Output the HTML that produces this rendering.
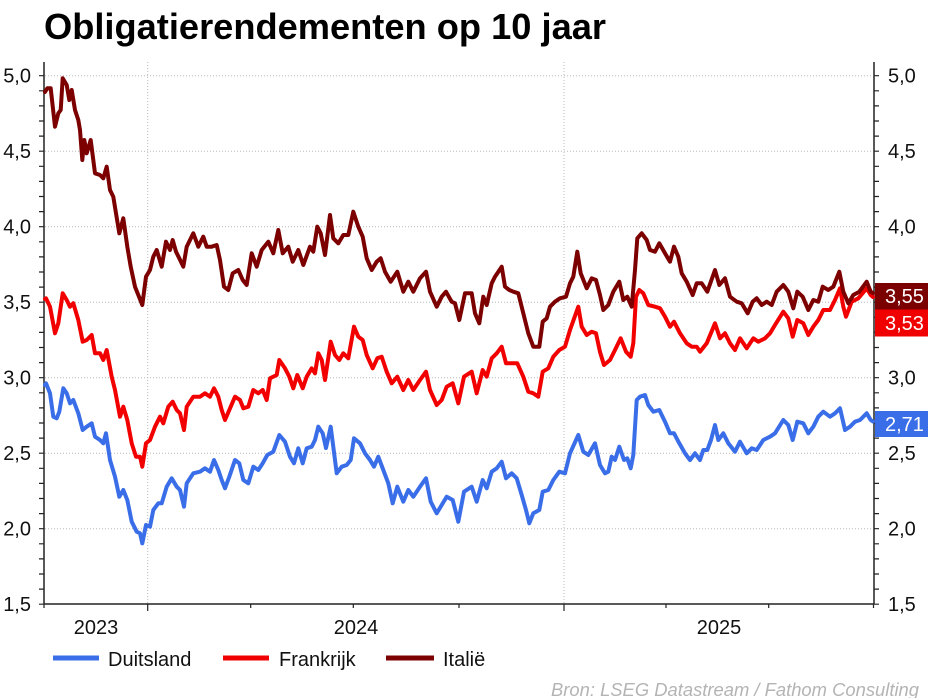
<!DOCTYPE html>
<html><head><meta charset="utf-8"><style>
html,body{margin:0;padding:0;background:#fff;}
svg{display:block;font-family:"Liberation Sans",Arial,sans-serif;}
</style></head><body>
<svg width="932" height="698" viewBox="0 0 932 698" xmlns="http://www.w3.org/2000/svg">
<rect width="932" height="698" fill="#fff"/>
<text x="44" y="39" font-size="36" font-weight="bold" fill="#000" textLength="562" lengthAdjust="spacingAndGlyphs">Obligatierendementen op 10 jaar</text>

<g stroke="#b8b8b8" stroke-width="1" stroke-dasharray="1 2" fill="none">
<line x1="45" y1="75.7" x2="873" y2="75.7"/>
<line x1="45" y1="151.2" x2="873" y2="151.2"/>
<line x1="45" y1="226.7" x2="873" y2="226.7"/>
<line x1="45" y1="302.2" x2="873" y2="302.2"/>
<line x1="45" y1="377.7" x2="873" y2="377.7"/>
<line x1="45" y1="453.2" x2="873" y2="453.2"/>
<line x1="45" y1="528.7" x2="873" y2="528.7"/>
<line x1="147.7" y1="62" x2="147.7" y2="603"/>
<line x1="564" y1="62" x2="564" y2="603"/>
</g>

<g stroke="#222" stroke-width="1.5" fill="none">
<line x1="44" y1="62" x2="44" y2="604.5"/>
<line x1="874" y1="62" x2="874" y2="604.5"/>
<line x1="44" y1="604" x2="874" y2="604"/>
</g>
<g stroke="#222" stroke-width="1.2">
<path d="M39 75.7H44M39 90.8H44M39 105.9H44M39 121H44M39 136.1H44M39 151.2H44M39 166.3H44M39 181.4H44M39 196.5H44M39 211.6H44M39 226.7H44M39 241.8H44M39 256.9H44M39 272H44M39 287.1H44M39 302.2H44M39 317.3H44M39 332.4H44M39 347.5H44M39 362.6H44M39 377.7H44M39 392.8H44M39 407.9H44M39 423H44M39 438.1H44M39 453.2H44M39 468.3H44M39 483.4H44M39 498.5H44M39 513.6H44M39 528.7H44M39 543.8H44M39 558.9H44M39 574H44M39 589.1H44M39 604.2H44"/>
<path d="M874 75.7H879M874 90.8H879M874 105.9H879M874 121H879M874 136.1H879M874 151.2H879M874 166.3H879M874 181.4H879M874 196.5H879M874 211.6H879M874 226.7H879M874 241.8H879M874 256.9H879M874 272H879M874 287.1H879M874 302.2H879M874 317.3H879M874 332.4H879M874 347.5H879M874 362.6H879M874 377.7H879M874 392.8H879M874 407.9H879M874 423H879M874 438.1H879M874 453.2H879M874 468.3H879M874 483.4H879M874 498.5H879M874 513.6H879M874 528.7H879M874 543.8H879M874 558.9H879M874 574H879M874 589.1H879M874 604.2H879"/>
<path d="M44 604V608M147.7 604V611M250.7 604V608M353.3 604V608M459 604V608M564 604V611M666 604V608M768.7 604V608M873.5 604V608"/>
</g>

<g font-size="20" fill="#111" text-anchor="end">
<text x="31" y="82.7">5,0</text>
<text x="31" y="158.2">4,5</text>
<text x="31" y="233.7">4,0</text>
<text x="31" y="309.2">3,5</text>
<text x="31" y="384.7">3,0</text>
<text x="31" y="460.2">2,5</text>
<text x="31" y="535.7">2,0</text>
<text x="31" y="611.2">1,5</text>
</g>
<g font-size="20" fill="#111">
<text x="888" y="82.7">5,0</text>
<text x="888" y="158.2">4,5</text>
<text x="888" y="233.7">4,0</text>
<text x="888" y="384.7">3,0</text>
<text x="888" y="460.2">2,5</text>
<text x="888" y="535.7">2,0</text>
<text x="888" y="611.2">1,5</text>
</g>
<g font-size="20" fill="#111" text-anchor="middle">
<text x="96" y="634">2023</text>
<text x="356" y="634">2024</text>
<text x="719" y="634">2025</text>
</g>

<g fill="none" stroke-width="4" stroke-linejoin="round" stroke-linecap="round">
<polyline stroke="#3A6EE8" points="45,385 46,383.3 50,393.3 53.3,416.7 56.7,418.3 59.3,411.7 63.3,388.3 66.7,393.3 70,403.3 73.3,400 78.3,413.3 82.7,430 86.7,426.7 91.7,423.3 95,436.7 100,440 103.3,443.3 106,433.3 110,460 115,476.7 119.3,496.7 123.3,490 127.3,500 131.7,521.7 136.7,531.7 140,533.3 142.3,543.3 146,525 150,526.7 153.3,510 158.3,503.3 161.7,503.3 166.7,486.7 171.7,478.3 176.7,486.7 180,490 184,506.7 186.7,483.3 193.3,473.3 200,471.7 205,468.3 210,471.7 214,460 218.3,470 221.7,480 225,488.3 229.3,476.7 235,460 239.3,463.3 243.3,480 248.3,483.3 253.3,466.7 258.3,470 262.7,463.3 267.3,455 273.3,451.7 279.3,435 285,441.7 290,456.7 294,463.3 298.3,448.3 302.7,463.3 306.7,448.3 311.7,446.7 315,440 318.3,426.7 322.7,433.3 326,448 330.7,426.7 336.7,473.3 341.7,466.7 346.7,465 350.7,460 354,438.3 360,443.3 365,453.3 370,460 374,466.7 378.3,456.7 383.3,470 388.3,483.3 392.7,503.3 397.3,486.7 403.3,501.7 408.3,490 413.3,496.7 420,486.7 426,478.3 430.7,501.7 436.7,513.3 441.7,505 446.7,496.7 452.7,500 458.3,521.7 464,491.7 471.7,486.7 476.7,501.7 482.7,480 486.7,488.3 491.7,471.7 496.7,468.3 501.7,461.7 506,478.3 511.7,473.3 516.7,478.3 521.7,495 526,510 529.3,523.3 533.3,513.3 539.3,510 542.7,491.7 548.3,490 553.3,480 559.3,471.7 565,473.3 570,453.3 578.3,435 583.3,451.7 588.3,455 595,443.3 600,465 605,473.3 608.3,471.7 611.7,456.7 615,460 619.3,446.7 624,460 627.3,458.3 630.7,468.3 633.3,455 636.7,400 640,396.7 645,395 648.3,405 653.3,411.7 659.3,410 665,421.7 670,433.3 674,433.3 679.3,443.3 685,453.3 690,460 695,453.3 700,460 703.3,450 707.3,450 711,440 715,425 718.3,440 723.3,433.3 728.3,443.3 735,451.7 740,441.7 746.7,453.3 751.7,448.3 756.7,450 763.3,440 770,436.7 775,433.3 783.3,420 788.3,425 792.7,440 797.3,421.7 803.3,423.3 808.3,433.3 813.3,426.7 818.3,416.7 823.3,411.7 830,416.7 835,413.3 840,408.3 845,430 850,426.7 855,421.7 860,420 866.7,413.3 870.7,420 873,421.5"/>
<polyline stroke="#F20000" points="45,299 46,298.3 50,306.7 55,333.3 58.3,323.3 62.7,293.3 66.7,300 70,306.7 73.3,303.3 78.3,320 82.7,341.7 86.7,340 91.7,335 95,353.3 100,353.3 103.3,360 106.7,350 111.7,376.7 115,390 120,416.7 123.3,406.7 127.3,420 131.7,443.3 136,456.7 140,456.7 142.3,466.7 146,443.3 150,440 155,426.7 160,416.7 163.3,423.3 168.3,406.7 172.7,401.7 176.7,410 180,413.3 184,430 186.7,406.7 193.3,396.7 200,396.7 205,393.3 210,396.7 214,388.3 218.3,396.7 221.7,410 225,420 229.3,410 235,396.7 240,400 243.3,408.3 248.3,406.7 253.3,390 258.3,393.3 262.7,390 266.7,400 270,378.3 276.7,375 279.3,360 285,368.3 289.3,376.7 293.3,388.3 297.3,375 302.7,388.3 306.7,376.7 311.7,368.3 315,373.3 318.3,353.3 321.7,360 325,380 330.7,341.7 335,355 339.3,360 343.3,353.3 348.3,358.3 354,326.7 358.3,336.7 362.7,340 366.7,355 372.7,368.3 377.3,358.3 381.7,356.7 386.7,371.7 391.7,383.3 397.3,376.7 403.3,390 408.3,380 413.3,390 420,380 426,371.7 430,390 436.7,405 441.7,400 446.7,386.7 452.7,383.3 458.3,403.3 464,376.7 471.7,371.7 476.7,393.3 482.7,370 486.7,376.7 491.7,358.3 496.7,353.3 501.7,346.7 506,363.3 511.7,363.3 517.3,363.3 523.3,376.7 528.3,391.7 533.3,393.3 538.3,396.7 542.7,371.7 548.3,368.3 553.3,356.7 559.3,350 565,346.7 570,330 578.3,306.7 581.7,326.7 586.7,335 591.7,331.7 596,333.3 600,352 604,365 610,360 615,350 620.7,338.3 626,351.7 630.7,356.7 633.3,343.3 636,296.7 639.3,290 643.3,293.3 648.3,305 655,306.7 660,308.3 665,316.7 670,326.7 674,321.7 680,333.3 686.7,343.3 691.7,346.7 696.7,346.7 700,351.7 706.7,343.3 715,323.3 720,338.3 725,333.3 730,343.3 735,350 740,338.3 746.7,348.3 753.3,338.3 758.3,341.7 765,338.3 770,333.3 775,325 783.3,311.7 788.3,318.3 792.7,336.7 797.3,320 803.3,323.3 808.3,335 813.3,326.7 818.3,320 823.3,310 830,310 835,300 840,288.3 843.3,306.7 846,316.7 851.7,301.7 858.3,298.3 866.7,288.3 870.7,295 873,297"/>
<polyline stroke="#7D0000" points="45,92 47.3,88.3 50.7,88.3 55,126.7 58.3,113.3 60.7,110 62.7,78.3 66.7,85 69.3,100 71.7,90 75,110 78.3,120 80,130 82.3,160 84.3,140 86.7,153.3 90.7,140 95,173.3 100,175 103.3,178.3 106.7,166.7 110,190 113.3,196.7 116,213.3 119.3,233.3 123.3,218.3 127.3,246.7 130.7,266.7 135,286.7 139,296.7 142.3,305 146,276.7 150,270 153.3,256.7 156.7,250 161.7,266.7 166,241.7 170,250 172.7,240 176,251.7 179.3,258.3 183.3,266.7 186.7,246.7 193.3,233.3 198.3,246.7 203.3,236.7 206.7,246.7 211.7,246.7 216.7,245 220,260 224,286.7 228.3,290 232.7,273.3 238.3,270 242.7,280 246.7,285 251.7,253.3 256.7,266.7 261.7,250 268.3,241.7 273.3,253.3 278.3,230 282.7,253.3 288.3,246.7 292.7,261.7 298.3,250 303.3,265 310,246.7 313.3,251.7 317.3,226.7 320.7,233.3 325,255 330,215 333.3,238.3 338.3,243.3 343.3,235 348.3,235 353.3,211.7 358.3,226.7 362.7,236.7 366.7,258.3 371.7,270 376.7,261.7 380.7,258.3 385,271.7 390.7,281.7 397.3,271.7 403.3,291.7 408.3,281.7 413.3,291.7 420,278.3 426,271.7 430,291.7 436.7,306.7 441.7,296.7 446,291.7 451.7,301.7 455,303.3 459.3,320 465,293.3 471.7,293.3 475,313.3 479.3,323.3 483.3,296.7 486.7,305 491.7,283.3 495,276.7 501.7,266.7 505,286.7 509.3,290 513.3,291.7 518.3,293.3 523.3,313.3 528.3,333.3 533.3,346.7 539.3,346.7 542.7,321.7 546.7,318.3 550,306.7 555,301.7 560,298.3 566,296.7 570,283.3 573.3,276.7 577.3,251.7 580.7,273.3 586.7,288.3 591.7,278.3 596,280 600,295 603.3,310 608.3,305 613.3,291.7 619.3,281.7 623.3,300 627.3,296.7 631.7,306.7 635,270 637.3,238.3 641.7,233.3 646.7,240 650,250 655,251.7 659.3,243.3 665,253.3 670,261.7 674,246.7 678.3,256.7 681.7,273.3 686.7,281.7 692.7,295 696.7,283.3 701.7,283.3 707.3,291.7 715,270 719.3,285 725,278.3 730,296.7 736.7,301.7 741.7,303.3 747.7,313.3 752.7,301.7 756.7,298.3 761.7,305 766.7,301.7 771.7,305 776.7,291.7 783.3,285 788.3,291.7 793.3,308.3 797.3,291.7 802.7,296.7 808.3,310 813.3,300 818.3,301.7 822.7,286.7 828.3,290 833.3,286.7 839.3,271.7 843.3,291.7 848.3,303.3 853.3,295 859.3,291.7 866.7,281.7 870.7,291.7 873,293"/>
</g>

<rect x="875" y="283" width="53" height="26.5" fill="#7B0000"/>
<rect x="875" y="309.5" width="53" height="27" fill="#F00000"/>
<rect x="875" y="411" width="53" height="26" fill="#3A6EE8"/>
<g font-size="20" fill="#fff">
<text x="885" y="303">3,55</text>
<text x="885" y="330">3,53</text>
<text x="885" y="431">2,71</text>
</g>

<g stroke-width="5">
<line x1="53" y1="658" x2="99" y2="658" stroke="#3A6EE8"/>
<line x1="223" y1="658" x2="269" y2="658" stroke="#F00000"/>
<line x1="386" y1="658" x2="434" y2="658" stroke="#7D0000"/>
</g>
<g font-size="20" fill="#111">
<text x="108" y="666">Duitsland</text>
<text x="279" y="666">Frankrijk</text>
<text x="443" y="666">Italië</text>
</g>

<text x="551" y="696" font-size="18" font-style="italic" fill="#B4B4B4" textLength="368" lengthAdjust="spacingAndGlyphs">Bron: LSEG Datastream / Fathom Consulting</text>
</svg>
</body></html>
